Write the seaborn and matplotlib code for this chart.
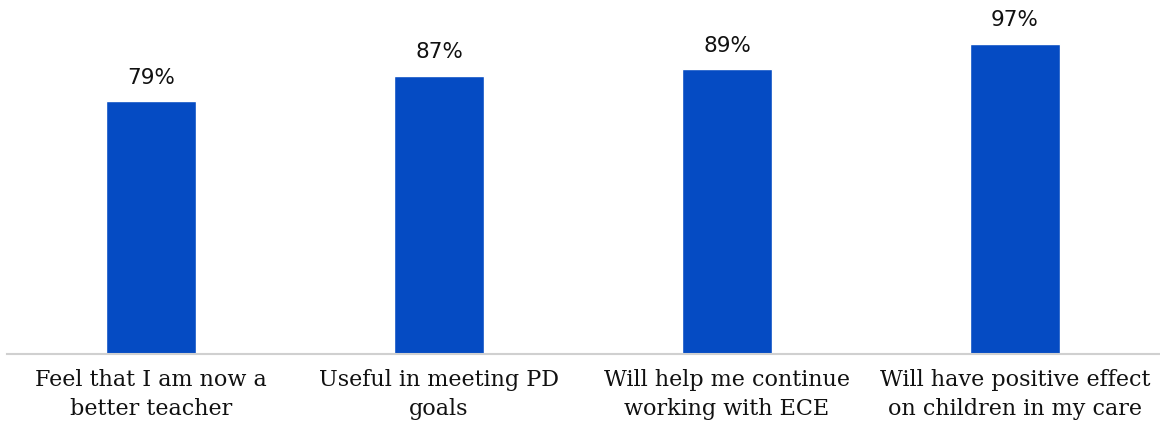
import matplotlib
matplotlib.use("Agg")
import matplotlib.pyplot as plt
import seaborn as sns
import pandas as pd

# chart data
categories = ["Feel that I am now a\nbetter teacher",
              "Useful in meeting PD\ngoals",
              "Will help me continue\nworking with ECE",
              "Will have positive effect\non children in my care"]
percent = [79, 87, 89, 97]

df = pd.DataFrame({"cat": categories, "pct": percent})

sns.set_theme(style="white")
plt.rcParams['font.family'] = ['DejaVu Sans']

fig = plt.figure(figsize=(11.6, 4.26), dpi=100)
ax = fig.add_axes([7/1160, 72/426, 1152/1160, 354/426])

sns.barplot(data=df, x="cat", y="pct", color="#054BC3", saturation=1,
            width=0.3125, ax=ax)

# value labels above bars
for i, v in enumerate(percent):
    ax.text(i, v + 4.2, f"{v}%", ha="center", va="bottom", fontsize=15.5, color="#111111")

ax.set_xlim(-0.5, 3.5)
ax.set_ylim(0, 110.6)
ax.set_xlabel("")
ax.set_ylabel("")
ax.set_yticks([])
ax.tick_params(axis="x", length=0, pad=11)
for lab in ax.get_xticklabels():
    lab.set_fontfamily("DejaVu Serif")
    lab.set_fontsize(16)
    lab.set_color("#111111")
    lab.set_linespacing(1.4)

for s in ["top", "right", "left"]:
    ax.spines[s].set_visible(False)
ax.spines["bottom"].set_color("#D0D0D0")
ax.spines["bottom"].set_linewidth(1.5)

fig.savefig("out.png", dpi=100)
